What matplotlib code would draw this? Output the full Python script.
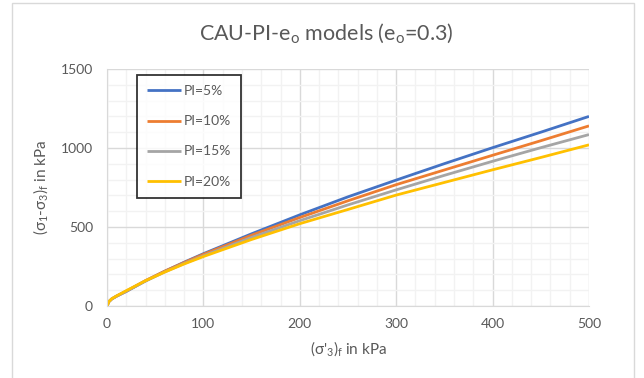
import matplotlib.pyplot as plt
from matplotlib.patches import Rectangle
import numpy as np

plt.rcParams['font.family'] = ['Lato', 'DejaVu Sans']
plt.rcParams['mathtext.fontset'] = 'custom'
plt.rcParams['mathtext.rm'] = 'Lato'
plt.rcParams['mathtext.it'] = 'Lato:italic'

# confining stress at failure (kPa)
sig3 = [0, 2, 5, 10, 20, 40, 60, 80, 100, 150, 200, 250, 300, 350, 400, 450, 500]

# deviator stress at failure (kPa)
pi5 = [0, 28, 45, 62, 92, 159, 220, 277, 331, 457, 577, 691, 797, 901, 1002, 1100, 1200]
pi10 = [0, 28, 45, 63, 94, 161, 221, 275, 327, 448, 560, 666, 768, 861, 954, 1046, 1140]
pi15 = [0, 28, 45, 63, 94, 158, 216, 269, 318, 434, 540, 640, 735, 827, 916, 1002, 1085]
pi20 = [0, 28, 46, 64, 97, 160, 215, 266, 313, 421, 521, 611, 702, 782, 862, 940, 1020]

labels = ['PI=5%', 'PI=10%', 'PI=15%', 'PI=20%']
colors = ['#4472C4', '#ED7D31', '#A5A5A5', '#FFC000']

W, H = 644, 378
fig = plt.figure(figsize=(W / 100, H / 100), dpi=100)
ax = fig.add_axes([107 / W, 1 - 306 / H, (589 - 107) / W, (306 - 69) / H])

for ys, lab, c in zip([pi5, pi10, pi15, pi20], labels, colors):
    ax.plot(sig3, ys, color=c, lw=2, label=lab, solid_capstyle='butt')

ax.set_xlim(0, 500)
ax.set_ylim(0, 1500)
ax.set_xticks(np.arange(0, 501, 100))
ax.set_yticks(np.arange(0, 1501, 500))
ax.set_xticks(np.arange(0, 501, 20), minor=True)
ax.set_yticks(np.arange(0, 1501, 100), minor=True)
ax.grid(which='major', color='#D9D9D9', lw=1)
ax.grid(which='minor', color='#F2F2F2', lw=1)
ax.set_axisbelow(True)
for s in ax.spines.values():
    s.set_visible(False)
ax.spines['left'].set_visible(True)
ax.spines['left'].set_color('#D9D9D9')
ax.spines['bottom'].set_visible(True)
ax.spines['bottom'].set_color('#D9D9D9')
ax.tick_params(which='both', length=0, colors='#595959', labelsize=10)
ax.tick_params(axis='x', pad=9)
ax.tick_params(axis='y', pad=10)

ax.set_xlabel("(σ'$_\\mathrm{3}$)$_\\mathrm{f}$ in kPa", fontsize=11, color='#595959', labelpad=6)
ax.set_ylabel("(σ$_\\mathrm{1}$-σ$_\\mathrm{3}$)$_\\mathrm{f}$ in kPa", fontsize=11, color='#595959', labelpad=8)
fig.text(326 / W, 1 - 33 / H, 'CAU-PI-e$_\\mathrm{o}$ models (e$_\\mathrm{o}$=0.3)',
         fontsize=15.5, color='#595959', ha='center', va='center')

leg = ax.legend(loc='upper left', bbox_to_anchor=(0.062, 0.975), borderaxespad=0,
                fancybox=False, edgecolor='black', fontsize=10, handlelength=2.4,
                handletextpad=0.2, labelspacing=1.3, borderpad=0.75, labelcolor='#595959')
leg.get_frame().set_linewidth(1.3)

fig.patches.append(Rectangle((12 / W, -0.02), (634 - 12) / W, 1.02 - 3 / H,
                             transform=fig.transFigure, fill=False,
                             edgecolor='#D9D9D9', lw=1))

fig.savefig('out.png', dpi=100)
